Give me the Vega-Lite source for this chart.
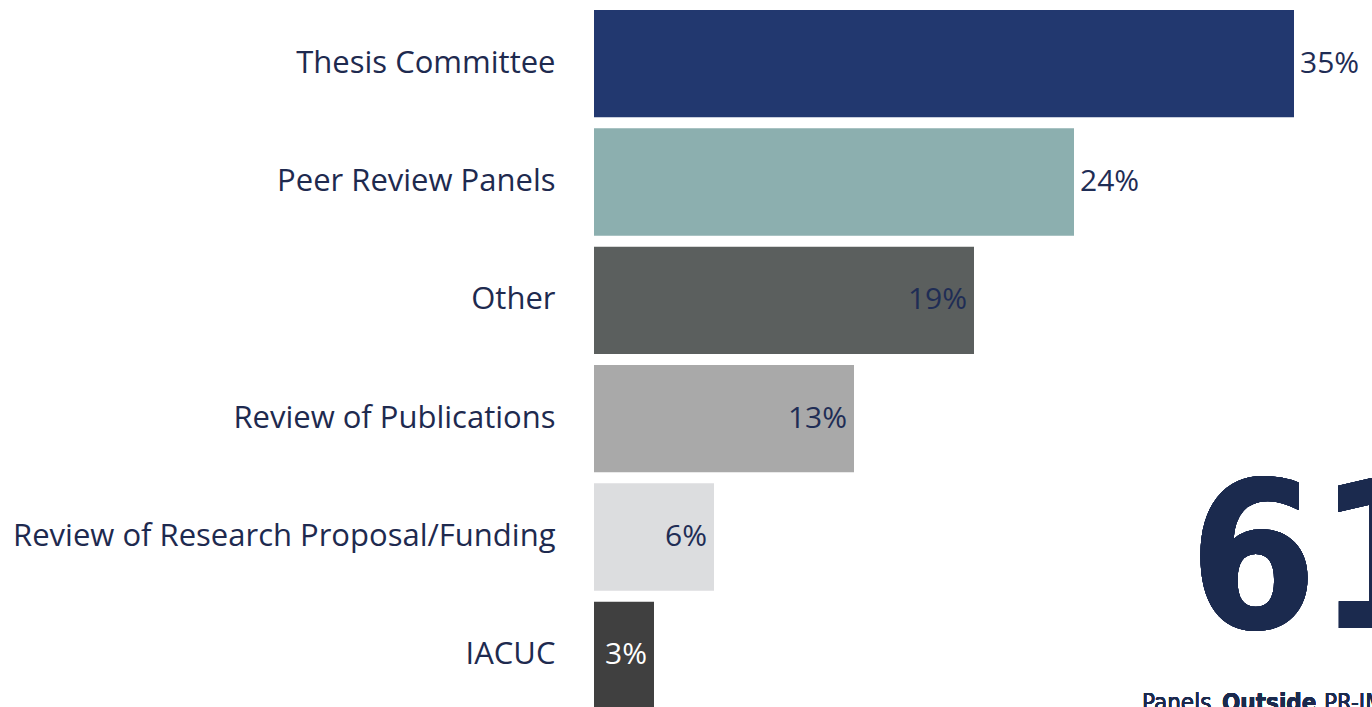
{
  "$schema": "https://vega.github.io/schema/vega-lite/v6.json",
  "autosize": {"type": "none"},
  "padding": {"left": 594, "top": 0, "right": 0, "bottom": 0},
  "width": 778,
  "height": 719,
  "background": "#ffffff",
  "config": {"view": {"stroke": null}},
  "data": {"values": [
    {"category": "Thesis Committee", "value": 35},
    {"category": "Peer Review Panels", "value": 24},
    {"category": "Other", "value": 19},
    {"category": "Review of Publications", "value": 13},
    {"category": "Review of Research Proposal/Funding", "value": 6},
    {"category": "IACUC", "value": 3}
  ]},
  "transform": [{"calculate": "datum.value + '%'", "as": "label"}],
  "encoding": {
    "y": {"field": "category", "type": "nominal", "sort": null,
      "scale": {"paddingInner": 0.093, "paddingOuter": 0.085},
      "axis": {"title": null, "ticks": false, "domain": false, "labelPadding": 39,
        "labelFont": "Open Sans", "labelFontSize": 31, "labelColor": "#1e2a4f", "labelLimit": 0, "labelFontWeight": 400}},
    "x": {"field": "value", "type": "quantitative", "scale": {"domain": [0, 38.9]}, "axis": null}
  },
  "layer": [
    {"mark": {"type": "bar"},
     "encoding": {"color": {"field": "category", "type": "nominal", "legend": null,
       "scale": {"domain": ["Thesis Committee", "Peer Review Panels", "Other", "Review of Publications", "Review of Research Proposal/Funding", "IACUC"],
                 "range": ["#22386f", "#8cafaf", "#5b5f5e", "#a9a9a9", "#dcdddf", "#404040"]}}}},
    {"transform": [{"filter": "datum.value >= 20"}],
     "mark": {"type": "text", "align": "left", "baseline": "middle", "dx": 6, "font": "Open Sans", "fontWeight": 400, "fontSize": 30, "color": "#1f2d55"},
     "encoding": {"text": {"field": "label"}}},
    {"transform": [{"filter": "datum.value < 20"}],
     "mark": {"type": "text", "align": "right", "baseline": "middle", "dx": -7, "font": "Open Sans", "fontWeight": 400, "fontSize": 30},
     "encoding": {"text": {"field": "label"},
       "color": {"condition": {"test": "datum.value < 5", "value": "#ffffff"}, "value": "#1f2d55"}}},
    {"mark": {"type": "text", "align": "left", "baseline": "alphabetic", "dy": 91, "font": "DejaVu Sans Condensed", "fontWeight": "bold", "fontSize": 205, "color": "#1b2a4e"},
     "encoding": {"x": {"datum": 29.75}, "y": {"datum": "Review of Research Proposal/Funding"}, "text": {"value": "61%"}}},
    {"mark": {"type": "text", "align": "left", "baseline": "alphabetic", "dy": 56, "font": "DejaVu Sans Condensed", "fontSize": 24, "color": "#1b2a4e"},
     "encoding": {"x": {"datum": 27.4}, "y": {"datum": "IACUC"}, "text": {"value": "Panels"}}},
    {"mark": {"type": "text", "align": "left", "baseline": "alphabetic", "dy": 56, "font": "DejaVu Sans Condensed", "fontWeight": "bold", "fontSize": 24, "color": "#1b2a4e"},
     "encoding": {"x": {"datum": 31.4}, "y": {"datum": "IACUC"}, "text": {"value": "Outside"}}},
    {"mark": {"type": "text", "align": "left", "baseline": "alphabetic", "dy": 56, "font": "DejaVu Sans Condensed", "fontSize": 24, "color": "#1b2a4e"},
     "encoding": {"x": {"datum": 36.5}, "y": {"datum": "IACUC"}, "text": {"value": "PR-IMPACT"}}}
  ]
}
